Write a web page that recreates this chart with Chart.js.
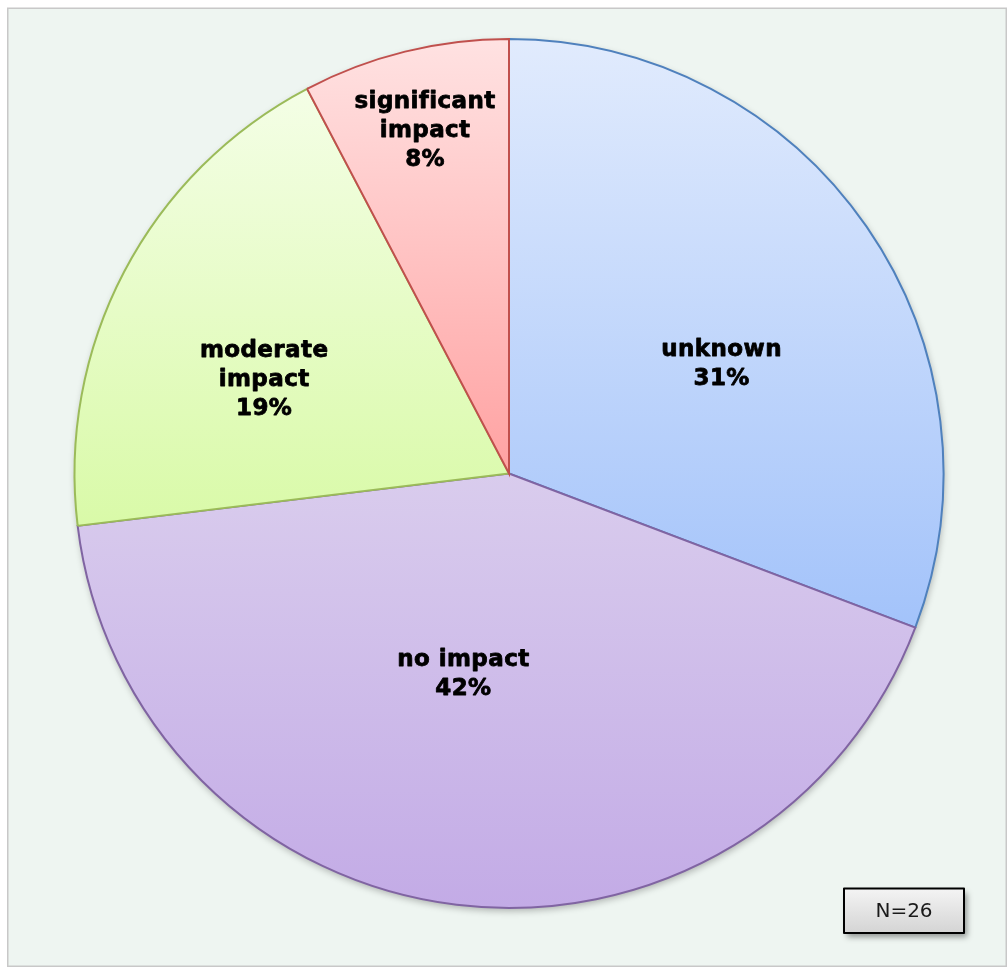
<!DOCTYPE html>
<html>
<head>
<meta charset="utf-8">
<script src="https://cdn.jsdelivr.net/npm/chart.js@4/dist/chart.umd.min.js"></script>
<style>
  html, body { margin: 0; padding: 0; background: #ffffff; }
  canvas { display: block; }
</style>
</head>
<body>
<canvas id="pie-chart" width="1008" height="968"></canvas>
<script>
// responses per category, N=26
let categorias = [["unknown"], ["no impact"], ["moderate", "impact"], ["significant", "impact"]]
let respuestas = [8, 11, 5, 2]
let totalN = 26

// slice looks: gradient top/bottom + edge colour
let colorArriba = ["#e1ebfd", "#d9cced", "#f4fee6", "#ffe2e2"]
let colorAbajo = ["#a3c3fa", "#c3abe6", "#d9faa8", "#ffa2a2"]
let colorBorde = ["#4f81bd", "#8064a2", "#9bbb59", "#c0504d"]

// where each label sits inside its slice (fraction of radius, turn in degrees)
let posRadio = [0.549, 0.474, 0.604, 0.812]
let posGiro = [7.4, 6.0, -6.9, 0]

// vertical extent of a slice, used for its gradient
function rangoVertical(cy, r, a0, a1) {
    let ys = [cy, cy + r * Math.sin(a0), cy + r * Math.sin(a1)]
    for (let k = -2; k <= 2; k++) {
        let abajo = Math.PI / 2 + k * 2 * Math.PI
        let arriba = -Math.PI / 2 + k * 2 * Math.PI
        if (abajo > a0 && abajo < a1) ys.push(cy + r)
        if (arriba > a0 && arriba < a1) ys.push(cy - r)
    }
    return [Math.min(...ys), Math.max(...ys)]
}

function rellenoSector(context) {
    let chart = context.chart
    let area = chart.chartArea
    if (!area) return colorAbajo[context.dataIndex]
    let i = context.dataIndex
    let datos = context.dataset.data
    let suma = datos.reduce((a, b) => a + b, 0)
    let antes = datos.slice(0, i).reduce((a, b) => a + b, 0)
    let a0 = -Math.PI / 2 + antes / suma * 2 * Math.PI
    let a1 = a0 + datos[i] / suma * 2 * Math.PI
    let cx = (area.left + area.right) / 2
    let cy = (area.top + area.bottom) / 2
    let r = (Math.min(area.width, area.height) - 2) / 2
    let [y0, y1] = rangoVertical(cy, r, a0, a1)
    let g = chart.ctx.createLinearGradient(cx, y0, cx, y1)
    g.addColorStop(0, colorArriba[i])
    g.addColorStop(1, colorAbajo[i])
    return g
}

// panel background, frame, pie shadow
const fondo = {
    id: "fondo",
    beforeDraw(chart) {
        let ctx = chart.ctx
        ctx.save()
        ctx.fillStyle = "#ffffff"
        ctx.fillRect(0, 0, chart.width, chart.height)
        ctx.fillStyle = "#eef5f1"
        ctx.fillRect(8, 8, 998, 958)
        ctx.strokeStyle = "#c8c8c8"
        ctx.lineWidth = 1.5
        ctx.strokeRect(7.75, 8.25, 998.5, 958)
        ctx.restore()
    },
    beforeDatasetsDraw(chart) {
        let arc = chart.getDatasetMeta(0).data[0]
        if (!arc) return
        let ctx = chart.ctx
        ctx.save()
        ctx.shadowColor = "rgba(0, 0, 0, 0.28)"
        ctx.shadowBlur = 7
        ctx.shadowOffsetX = 1
        ctx.shadowOffsetY = 3
        ctx.fillStyle = "#d8cdea"
        ctx.beginPath()
        ctx.arc(arc.x, arc.y, arc.outerRadius, 0, Math.PI * 2)
        ctx.fill()
        ctx.restore()
    }
}

// category name + percent inside each slice, and the N box
const etiquetas = {
    id: "etiquetas",
    afterDatasetsDraw(chart) {
        let ctx = chart.ctx
        let meta = chart.getDatasetMeta(0)
        ctx.save()
        ctx.fillStyle = "#000000"
        ctx.strokeStyle = "#000000"
        ctx.lineWidth = 0.8
        ctx.lineJoin = "round"
        ctx.font = "bold 23px 'DejaVu Sans'"
        ctx.letterSpacing = "0.4px"
        ctx.textAlign = "center"
        ctx.textBaseline = "middle"
        meta.data.forEach((arc, i) => {
            let ang = (arc.startAngle + arc.endAngle) / 2 + posGiro[i] * Math.PI / 180
            let r = arc.outerRadius * posRadio[i]
            let x = arc.x + r * Math.cos(ang)
            let y = arc.y + r * Math.sin(ang)
            let pct = Math.round(respuestas[i] / totalN * 100) + "%"
            let lineas = categorias[i].concat([pct])
            let alto = 29
            let y0 = y - (lineas.length - 1) * alto / 2
            lineas.forEach((t, j) => {
                ctx.fillText(t, x + 0.5, y0 + j * alto)
                ctx.strokeText(t, x + 0.5, y0 + j * alto)
            })
        })

        // N box
        let bx = 844, by = 888.5, bw = 120, bh = 44.5
        ctx.save()
        ctx.shadowColor = "rgba(0, 0, 0, 0.4)"
        ctx.shadowBlur = 6
        ctx.shadowOffsetX = 3
        ctx.shadowOffsetY = 4
        let g = ctx.createLinearGradient(0, by, 0, by + bh)
        g.addColorStop(0, "#f4f4f4")
        g.addColorStop(1, "#d4d4d4")
        ctx.fillStyle = g
        ctx.fillRect(bx, by, bw, bh)
        ctx.restore()
        ctx.strokeStyle = "#000000"
        ctx.lineWidth = 2
        ctx.strokeRect(bx, by, bw, bh)
        ctx.letterSpacing = "0px"
        ctx.font = "20px 'DejaVu Sans'"
        ctx.fillStyle = "#1a1a1a"
        ctx.fillText("N=" + totalN, bx + bw / 2, by + bh / 2 + 1)
        ctx.restore()
    }
}

let ctx = document.getElementById("pie-chart").getContext("2d")
let grafico = new Chart(ctx, {
    type: "pie",
    data: {
        labels: categorias,
        datasets: [{
            data: respuestas,
            backgroundColor: rellenoSector,
            borderColor: colorBorde,
            borderWidth: 2,
            hoverBorderWidth: 2,
            hoverOffset: 0,
            borderJoinStyle: "miter"
        }]
    },
    options: {
        responsive: false,
        animation: false,
        layout: {
            padding: { left: 73.5, right: 63.5, top: 38, bottom: 59 }
        },
        plugins: {
            legend: { display: false },
            tooltip: { enabled: false }
        }
    },
    plugins: [fondo, etiquetas]
})
</script>
</body>
</html>
